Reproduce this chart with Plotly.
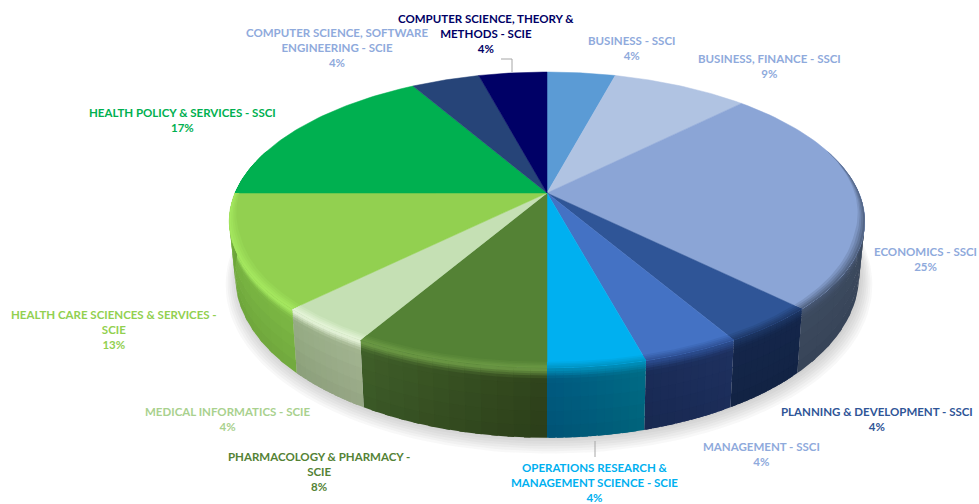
import numpy as np
import plotly.graph_objects as go

categories = ["BUSINESS - SSCI", "BUSINESS, FINANCE - SSCI", "ECONOMICS - SSCI",
              "PLANNING & DEVELOPMENT - SSCI", "MANAGEMENT - SSCI",
              "OPERATIONS RESEARCH &<br>MANAGEMENT SCIENCE - SCIE",
              "PHARMACOLOGY & PHARMACY -<br>SCIE", "MEDICAL INFORMATICS - SCIE",
              "HEALTH CARE SCIENCES & SERVICES -<br>SCIE", "HEALTH POLICY & SERVICES - SSCI",
              "COMPUTER SCIENCE, SOFTWARE<br>ENGINEERING - SCIE",
              "COMPUTER SCIENCE, THEORY &<br>METHODS - SCIE"]
values = [4.17, 8.33, 25.0, 4.17, 4.17, 4.17, 8.33, 4.17, 12.5, 16.67, 4.17, 4.17]
percent_labels = ["4%", "9%", "25%", "4%", "4%", "4%", "8%", "4%", "13%", "17%", "4%", "4%"]

top_colors = ["#5B9BD5", "#B0C3E2", "#8BA5D6", "#2F5597", "#4472C4", "#00B0F0",
              "#548235", "#C5E0B4", "#92D050", "#00B050", "#264478", "#000066"]
text_colors = ["#8FAADC", "#8FAADC", "#8FAADC", "#2F5597", "#8FAADC", "#00B0F0",
               "#548235", "#A9D18E", "#92D050", "#00B050", "#8FAADC", "#000066"]
side_start = ["#000000", "#000000", "#3C4A5F", "#14264A", "#1E3160", "#006C86",
              "#2F431B", "#A3B591", "#7CB844", "#00703A", "#000000", "#000000"]
side_end = ["#000000", "#000000", "#3C4A5F", "#14264A", "#1A2C58", "#005A80",
            "#40602A", "#98AD85", "#74B03E", "#00703A", "#000000", "#000000"]
rim_colors = ["#000000", "#000000", "#465672", "#1C3562", "#2C4D90", "#0090BC",
              "#6E9C46", "#EAF8DE", "#A8EC62", "#00B050", "#000000", "#000000"]

label_x = [631, 769, 925, 877, 761, 594, 319, 228, 114, 182, 337, 486]
label_y = [47.5, 66, 258.5, 418.5, 454, 482, 471, 418.5, 329.5, 119.5, 47, 33]

CX, CY, A, B, K, KX = 547, 193, 312, 143, 0.182, 0.19


def top_pt(theta, r=1.0):
    u, v = r * np.sin(theta), r * np.cos(theta)
    return CX + A * u / (1 + KX * v), CY - B * v / (1 + K * v)


def low_pt(theta, t=1.0):
    x, y = top_pt(theta)
    depth = 50 - 20 * np.cos(theta)
    return CX + (x - CX) * (1 - 0.018 * t), y + depth * t


def to_rgb(h):
    return np.array([int(h[i:i + 2], 16) for i in (1, 3, 5)], float)


def mix(a, b, f):
    c = to_rgb(a) * (1 - f) + to_rgb(b) * f
    return "#%02x%02x%02x" % tuple(int(round(x)) for x in c)


fig = go.Figure()


def poly(xs, ys, color, name=None, lw=0.0):
    fig.add_trace(go.Scatter(x=list(xs), y=list(ys), mode="lines", fill="toself",
                             fillcolor=color, line=dict(color=color, width=lw),
                             hoverinfo="text" if name else "skip",
                             text=name, showlegend=False))


# soft ground shadow
arc = np.linspace(np.pi * 0.40, np.pi * 1.60, 120)
for i in range(7):
    grow = 1 + 0.006 * i
    lx, ly = low_pt(arc)
    lx = CX + (lx - CX) * grow + 2
    ly = CY + (ly - CY) * grow + 1 + i
    fx, fy = top_pt(arc)
    fig.add_trace(go.Scatter(x=np.r_[lx, fx[::-1]], y=np.r_[ly, fy[::-1]], mode="lines", fill="toself",
                             fillcolor="rgba(60,60,60,0.035)", line=dict(width=0),
                             hoverinfo="skip", showlegend=False))

fractions = np.array(values, float) / sum(values)
edges = np.r_[0, np.cumsum(fractions)] * 2 * np.pi
VIS0, VIS1 = np.radians(72), np.radians(288)


def bevel(theta):
    return np.clip((0.3 - np.cos(theta)) / 0.6, 0, 1)


# side wall, shaded in small cells. Cells overlap their lower and right
# neighbours, which are painted so that no seams appear between them.
rows = [0, 0.03, 0.06, 0.09, 0.13, 0.2, 0.4, 0.6, 0.8, 1.0]
for i, (a0, a1) in enumerate(zip(edges[:-1], edges[1:])):
    s0, s1 = max(a0, VIS0), min(a1, VIS1)
    if s1 <= s0:
        continue
    nseg = 12
    bounds = np.linspace(s0, s1, nseg + 1)
    for j in range(nseg):
        base = mix(side_start[i], side_end[i], (j + 0.5) / nseg)
        end = bounds[j + 1] + (np.radians(1.0) if j < nseg - 1 else 0)
        th = np.linspace(bounds[j], end, 6)
        for n in range(len(rows) - 2, -1, -1):
            r0, r1 = rows[n], rows[n + 1]
            mid = (r0 + r1) / 2
            if mid < 0.13:
                col = mix(rim_colors[i], base, mid / 0.13)
            else:
                col = mix(base, "#000000", 0.10 * (mid - 0.13))
            x0, y0 = low_pt(th, r0)
            x1, y1 = low_pt(th, min(r1 + 0.02, 1.0))
            poly(np.r_[x0, x1[::-1]], np.r_[y0, y1[::-1]], col)

# top face
for i, (a0, a1) in enumerate(zip(edges[:-1], edges[1:])):
    th = np.linspace(a0, a1, 60)
    x, y = top_pt(th)
    poly(np.r_[CX, x, CX], np.r_[CY, y, CY], top_colors[i],
         name=f"{categories[i].replace('<br>', ' ')}: {percent_labels[i]}", lw=0.5)

# bevel ring on the front of the top face, narrowing to nothing at the sides
levels = [0.972, 0.98, 0.987, 0.994]
for i, (a0, a1) in enumerate(zip(edges[:-1], edges[1:])):
    s0, s1 = max(a0, VIS0), min(a1, VIS1)
    if s1 <= s0:
        continue
    th = np.linspace(s0, s1, 50)
    f = bevel(th)
    for k, lev in enumerate(levels):
        col = mix(top_colors[i], rim_colors[i], (k + 1) / (len(levels) + 1))
        x0, y0 = top_pt(th, 1 - (1 - lev) * f)
        x1, y1 = top_pt(th, 1.0)
        poly(np.r_[x0, x1[::-1]], np.r_[y0, y1[::-1]], col)

# labels
for name, pct, col, lx, ly in zip(categories, percent_labels, text_colors, label_x, label_y):
    fig.add_annotation(x=lx, y=ly, xref="x", yref="y", showarrow=False,
                       text=f"<b>{name}<br>{pct}</b>", align="center",
                       font=dict(family="Lato, Carlito, sans-serif", size=11.5, color=col),
                       xanchor="center", yanchor="middle")

# leader lines
fig.add_shape(type="path", path="M 501 59 L 512 59 L 512 72", line=dict(color="#A6A6A6", width=1))
fig.add_shape(type="line", x0=595, x1=595, y0=441, y1=457, line=dict(color="#A6A6A6", width=1))

fig.update_layout(width=979, height=504, margin=dict(l=0, r=0, t=0, b=0),
                  paper_bgcolor="white", plot_bgcolor="white", showlegend=False,
                  xaxis=dict(range=[0, 979], visible=False, fixedrange=True),
                  yaxis=dict(range=[504, 0], visible=False, fixedrange=True))
# drop the page's default body margin so the figure fills the window exactly
fig.write_html("out.html", default_width="979px", default_height="504px",
               config={"displayModeBar": False},
               post_script="document.body.style.margin='0';"
                           "document.documentElement.style.overflow='hidden';")
